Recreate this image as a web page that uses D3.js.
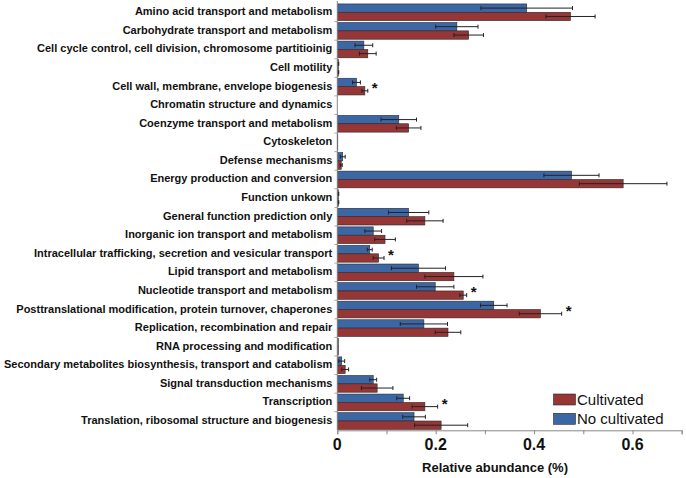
<!DOCTYPE html>
<html><head><meta charset="utf-8">
<script src="https://cdn.jsdelivr.net/npm/d3@7"></script>
<style>body{margin:0;background:#fff}svg{display:block}text{font-family:"Liberation Sans",Arial,sans-serif}</style>
</head><body>
<svg id="c" width="686" height="478"></svg>
<script>
const categories = [
"Amino acid transport and metabolism",
"Carbohydrate transport and metabolism",
"Cell cycle control, cell division, chromosome partitioinig",
"Cell motility",
"Cell wall, membrane, envelope biogenesis",
"Chromatin structure and dynamics",
"Coenzyme transport and metabolism",
"Cytoskeleton",
"Defense mechanisms",
"Energy production and conversion",
"Function unkown",
"General function prediction only",
"Inorganic ion transport and metabolism",
"Intracellular trafficking, secretion and vesicular transport",
"Lipid transport and metabolism",
"Nucleotide transport and metabolism",
"Posttranslational modification, protein turnover, chaperones",
"Replication, recombination and repair",
"RNA processing and modification",
"Secondary metabolites biosynthesis, transport and catabolism",
"Signal transduction mechanisms",
"Transcription",
"Translation, ribosomal structure and biogenesis"];
const noCultivated    = [0.385,0.243,0.054,0.002,0.039,0.000,0.125,0.001,0.011,0.476,0.002,0.145,0.073,0.066,0.165,0.199,0.318,0.176,0.002,0.009,0.073,0.134,0.156];
const noCultivatedErr = [0.093,0.043,0.018,0.001,0.008,0.000,0.036,0.000,0.005,0.056,0.001,0.041,0.017,0.005,0.055,0.038,0.027,0.048,0.000,0.006,0.007,0.013,0.023];
const cultivated      = [0.474,0.267,0.062,0.002,0.056,0.000,0.145,0.001,0.008,0.581,0.002,0.178,0.097,0.084,0.237,0.256,0.413,0.225,0.002,0.016,0.081,0.178,0.211];
const cultivatedErr   = [0.050,0.030,0.017,0.001,0.006,0.000,0.025,0.000,0.002,0.089,0.001,0.037,0.021,0.011,0.059,0.007,0.043,0.026,0.000,0.007,0.032,0.026,0.054];
const significant = [false,false,false,false,true,false,false,false,false,false,false,false,false,true,false,true,true,false,false,false,false,true,false];
const xTicks = [0,0.2,0.4,0.6];
const seriesNames = ["Cultivated","No cultivated"];
const colors = {"Cultivated":"#963636","No cultivated":"#3c67a4"};

const svg = d3.select("#c");
const x = d3.scaleLinear().domain([0,0.7]).range([337.3,681.7]);
const y = d3.scaleBand().domain(categories).range([3,430.3]).paddingInner(0.1).paddingOuter(0.05);
const bh = y.bandwidth()/2;

const rows = categories.map((c,i)=>({c,i,
  s:[{name:"No cultivated",v:noCultivated[i],e:noCultivatedErr[i],off:0},
     {name:"Cultivated",v:cultivated[i],e:cultivatedErr[i],off:1}]}));

// category tick marks
svg.append("g").selectAll("line").data(categories.slice(1)).join("line")
  .attr("x1",x(0)-3).attr("x2",x(0))
  .attr("y1",d=>y(d)-y.step()*y.paddingInner()/2).attr("y2",d=>y(d)-y.step()*y.paddingInner()/2)
  .attr("stroke","#aaa").attr("stroke-width",1);

const g = svg.append("g");
rows.forEach(r=>{
  r.s.forEach(s=>{
    const yy = y(r.c)+s.off*bh;
    g.append("rect").attr("x",x(0)).attr("y",yy).attr("width",Math.max(0,x(s.v)-x(0))).attr("height",bh)
      .attr("fill",colors[s.name]).attr("stroke","#2a2a2a").attr("stroke-width",0.6);
  });
  r.s.forEach(s=>{
    if(s.e<=0) return;
    const cy = y(r.c)+s.off*bh+bh/2;
    const eg = g.append("g").attr("stroke","#222").attr("stroke-width",1);
    eg.append("line").attr("x1",x(s.v-s.e)).attr("x2",x(s.v+s.e)).attr("y1",cy).attr("y2",cy);
    [s.v-s.e,s.v+s.e].forEach(v=>eg.append("line").attr("x1",x(v)).attr("x2",x(v)).attr("y1",cy-2).attr("y2",cy+2));
  });
  if(significant[r.i]){
    const mx = d3.max(r.s,s=>s.v+s.e);
    g.append("text").attr("x",x(mx)+4).attr("y",y(r.c)+y.bandwidth()/2+6.5)
      .attr("font-size",15).attr("font-weight","bold").attr("fill","#111").text("*");
  }
});

// y axis line
svg.append("line").attr("x1",x(0)).attr("x2",x(0)).attr("y1",1).attr("y2",430.3).attr("stroke","#888").attr("stroke-width",1);

// category labels
svg.append("g").selectAll("text").data(categories).join("text")
  .attr("x",x(0)-5).attr("y",d=>y(d)+y.bandwidth()/2-1).attr("text-anchor","end").attr("dominant-baseline","central")
  .attr("font-size",11).attr("font-weight","bold").attr("fill","#111").text(d=>d);

// x axis
const xa = svg.append("g").attr("transform","translate(0,430.3)")
  .call(d3.axisBottom(x).tickValues(d3.range(0,0.71,0.1)).tickSize(4).tickFormat(""));
xa.select(".domain").attr("stroke","#888");
xa.selectAll(".tick line").attr("stroke","#888");
svg.append("g").selectAll("text").data(xTicks).join("text")
  .attr("x",d=>x(d)).attr("y",450).attr("text-anchor","middle")
  .attr("font-size",16).attr("font-weight","bold").attr("fill","#111").text(d=>d3.format("")(d));
svg.append("text").attr("x",495).attr("y",471.5).attr("text-anchor","middle")
  .attr("font-size",13).attr("font-weight","bold").attr("fill","#111").text("Relative abundance (%)");

// legend
const lg = svg.append("g");
seriesNames.forEach((n,i)=>{
  const ly = 394+i*19.3;
  lg.append("rect").attr("x",553.5).attr("y",ly).attr("width",22).attr("height",11)
    .attr("fill",colors[n]).attr("stroke","#2a2a2a").attr("stroke-width",0.6);
  lg.append("text").attr("x",577).attr("y",ly+10.5).attr("font-size",15).attr("fill","#111").text(n);
});
</script>
</body></html>
